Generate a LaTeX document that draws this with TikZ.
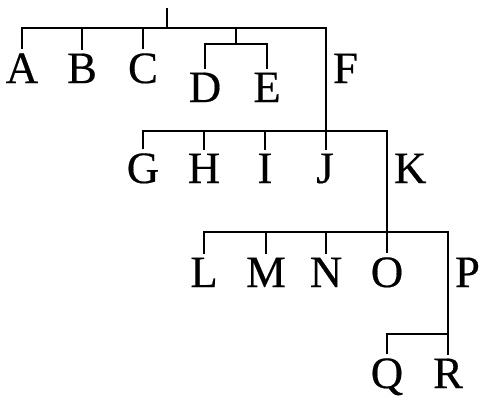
\documentclass[tikz,border=0pt]{standalone}
\usepackage{fontspec}
\setmainfont[FakeBold=0.4]{Liberation Serif}
\begin{document}
\begin{tikzpicture}[x=1bp,y=-1bp,line width=1.9bp,
  lbl/.style={font=\fontsize{45}{45}\selectfont,inner sep=0pt,outer sep=4bp,anchor=base},
  side/.style={font=\fontsize{45}{45}\selectfont,inner sep=0pt,outer sep=0pt,anchor=base west}]
\useasboundingbox (0,0) rectangle (479,398);
% leaf labels
\node[lbl] (A) at (22,83) {A};
\node[lbl] (B) at (82,83) {B};
\node[lbl] (C) at (143,83) {C};
\node[lbl] (D) at (205,102) {D};
\node[lbl] (E) at (267,102) {E};
\node[lbl] (G) at (143,183) {G};
\node[lbl] (H) at (204,183) {H};
\node[lbl] (I) at (265,183) {I};
\node[lbl] (J) at (325,183) {J};
\node[lbl] (L) at (204,287) {L};
\node[lbl] (M) at (266,287) {M};
\node[lbl] (N) at (326,287) {N};
\node[lbl] (O) at (387,287) {O};
\node[lbl] (Q) at (387,388) {Q};
\node[lbl] (R) at (448,388) {R};
% side labels
\node[side] (F) at (333,83) {F};
\node[side] (K) at (394,183) {K};
\node[side] (P) at (455,287) {P};
% junctions
\coordinate (top) at (167,8);
\coordinate (b1) at (167,28);
\coordinate (de) at (236,44);
\coordinate (b2) at (326,131);
\coordinate (b3) at (387,232);
\coordinate (b4) at (448,334);
% level 1
\draw (top) -- (b1);
\draw (A.north) |- (b1) -| (b2) -- (b2 |- J.north);
\draw (B.north) -- (B.north |- b1);
\draw (C.north) -- (C.north |- b1);
\draw (de) -- (de |- b1);
\draw (D.north) |- (de) -| (E.north);
% level 2
\draw (G.north) |- (b2) -| (O.north);
\draw (H.north) -- (H.north |- b2);
\draw (I.north) -- (I.north |- b2);
% level 3
\draw (L.north) |- (b3) -| (R.north);
\draw (M.north) -- (M.north |- b3);
\draw (N.north) -- (N.north |- b3);
% level 4
\draw (Q.north) |- (b4);
\end{tikzpicture}
\end{document}
